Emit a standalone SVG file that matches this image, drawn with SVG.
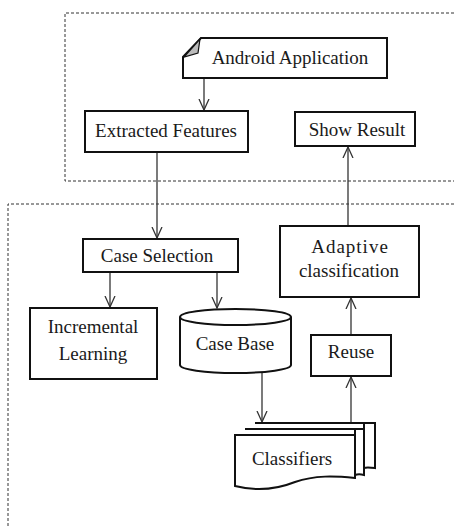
<svg xmlns="http://www.w3.org/2000/svg" width="454" height="526" viewBox="0 0 454 526" font-family="'Liberation Serif', 'Times New Roman', serif">
<defs>
<style>
.box{fill:#fff;stroke:#111;stroke-width:2}
.dash{fill:none;stroke:#333;stroke-width:1;stroke-dasharray:3,2}
.con{fill:none;stroke:#333;stroke-width:1.3}
text{font-family:'Liberation Serif', 'Times New Roman', serif;font-size:19px;fill:#1a1a1a;text-anchor:middle}
</style>
<marker id="arr" markerUnits="userSpaceOnUse" markerWidth="14" markerHeight="14" refX="11" refY="6" orient="auto">
<path d="M0,1 L11,6 L0,11" fill="none" stroke="#333" stroke-width="1.3"/>
</marker>
</defs>
<rect width="454" height="526" fill="#fff"/>
<g id="regions">
<path class="dash" d="M454,13 H65 V181 H454"/>
<path class="dash" d="M454,204 H8 V526"/>
</g>
<g id="connectors">
<path class="con" d="M204,78 V110" marker-end="url(#arr)"/>
<path class="con" d="M157,152 V238" marker-end="url(#arr)"/>
<path class="con" d="M110,272 V307" marker-end="url(#arr)"/>
<path class="con" d="M217,272 V308" marker-end="url(#arr)"/>
<path class="con" d="M262,373 V422" marker-end="url(#arr)"/>
<path class="con" d="M351,423 V377" marker-end="url(#arr)"/>
<path class="con" d="M351,335 V298" marker-end="url(#arr)"/>
<path class="con" d="M348,226 V147" marker-end="url(#arr)"/>
</g>
<g id="android">
<path class="box" d="M201,38 H387 V78 H183 V57 Z"/>
<path d="M184,57 L200,39 L198,53 Z" fill="#bbb" stroke="#111" stroke-width="1.2"/>
<text x="290" y="64">Android Application</text>
</g>
<g id="extracted">
<rect class="box" x="85" y="111" width="163" height="41"/>
<text x="166" y="137">Extracted Features</text>
</g>
<g id="show">
<rect class="box" x="295" y="112" width="120" height="34"/>
<text x="357" y="136">Show Result</text>
</g>
<g id="caseselection">
<rect class="box" x="83" y="239" width="155" height="33"/>
<text x="157" y="262">Case Selection</text>
</g>
<g id="adaptive">
<rect class="box" x="280" y="226" width="139" height="71"/>
<text x="350" y="253" letter-spacing="1">Adaptive</text>
<text x="349" y="277">classification</text>
</g>
<g id="incremental">
<rect class="box" x="30" y="308" width="127" height="71"/>
<text x="93" y="333">Incremental</text>
<text x="93" y="360">Learning</text>
</g>
<g id="casebase">
<path class="box" d="M180,317 V365 A55.5,8 0 0 0 291,365 V317 A55.5,8 0 0 0 180,317 Z"/>
<path class="box" d="M180,317 A55.5,8 0 0 0 291,317"/>
<text x="235" y="350">Case Base</text>
</g>
<g id="reuse">
<rect class="box" x="311" y="335" width="80" height="41"/>
<text x="351" y="358">Reuse</text>
</g>
<g id="classifiers">
<path class="box" d="M255,423 H375 V468 C368,467 366,467 364,468 V423 Z"/>
<path class="box" d="M245,429 H364 V475 C360,474 358,474 355,475 V429 Z"/>
<path class="box" d="M235,435 H355 V478 C335,476 315,475 295,482 C275,490 255,491 235,486 Z"/>
<text x="292" y="465">Classifiers</text>
</g>
</svg>
